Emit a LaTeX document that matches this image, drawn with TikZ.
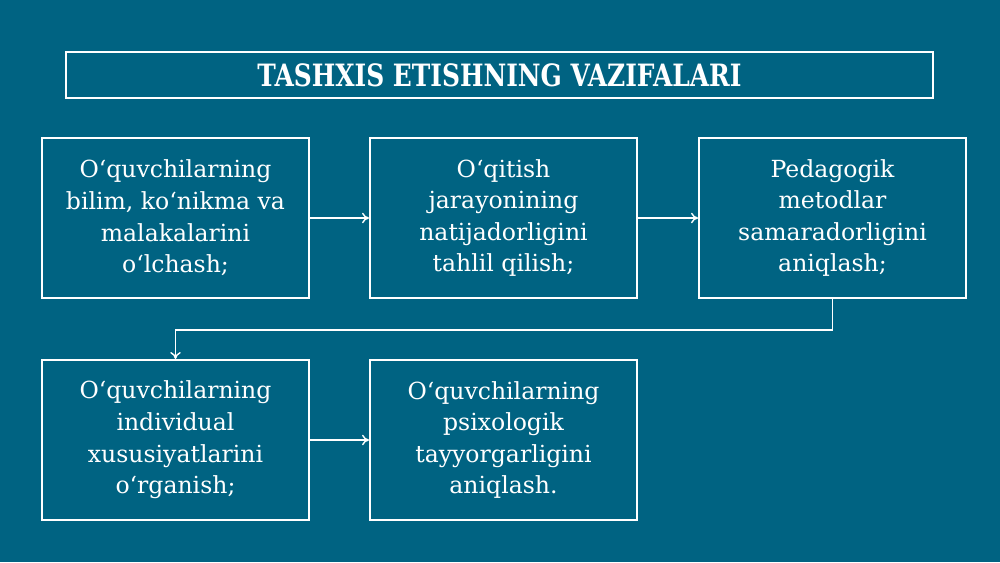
\documentclass[tikz,border=0pt]{standalone}
\usepackage{fontspec}
\setmainfont{DejaVu Serif}
\newfontfamily\titlefont[FakeStretch=0.9]{DejaVu Serif Condensed}
\usetikzlibrary{arrows.meta}
\definecolor{slideblue}{RGB}{0,99,130}

\begin{document}
\begin{tikzpicture}[x=0.02cm, y=-0.02cm,
    taskbox/.style={draw=white, line width=1.1pt, minimum width=5.34cm, minimum height=3.2cm,
      align=center, text=white, inner sep=0pt, font=\fontsize{13.4}{18}\selectfont},
    flow/.style={draw=white, line width=0.8pt, -{To[length=4pt, width=6pt]}}]
        % slide background
        \fill[slideblue] (0,0) rectangle (1000,562);

        % heading
        \node[draw=white, line width=1.2pt, minimum width=17.34cm, minimum height=0.92cm, inner sep=0pt,
          text=white, font=\titlefont\bfseries\fontsize{17.5}{20}\selectfont] (title) at (499.5,75)
          {TASHXIS ETISHNING VAZIFALARI};

        % first row
        \node[taskbox] (measure) at (175.5,218) {O‘quvchilarning\\bilim, ko‘nikma va\\malakalarini\\o‘lchash;};
        \node[taskbox] (analyse) at (503.5,218) {O‘qitish\\jarayonining\\natijadorligini\\tahlil qilish;};
        \node[taskbox] (method) at (832.5,218) {Pedagogik\\metodlar\\samaradorligini\\aniqlash;};

        % second row
        \node[taskbox] (individual) at (175.5,440) {O‘quvchilarning\\individual\\xususiyatlarini\\o‘rganish;};
        \node[taskbox] (ready) at (503.5,440) {O‘quvchilarning\\psixologik\\tayyorgarligini\\aniqlash.};

        % connections
        \draw[flow] (measure) -- (analyse);
        \draw[flow] (analyse) -- (method);
        \draw[flow] (method.south) -- ++(0,31) -| (individual.north);
        \draw[flow] (individual) -- (ready);
    \end{tikzpicture}
\end{document}
